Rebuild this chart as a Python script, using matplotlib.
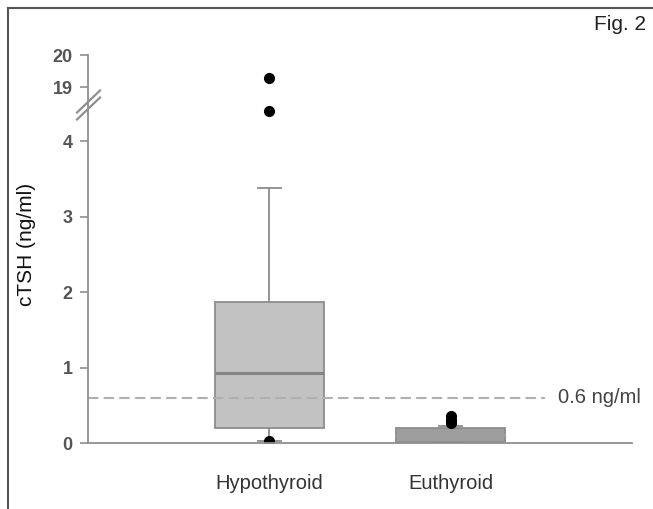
import matplotlib
matplotlib.use("Agg")
import matplotlib.pyplot as plt
from matplotlib.lines import Line2D

plt.rcParams["font.family"] = ["Liberation Sans", "DejaVu Sans"]

categories = ["Hypothyroid", "Euthyroid"]
q1 = [0.20, 0.01]
medians = [0.93, 0.10]
q3 = [1.87, 0.20]
whislo = [0.03, 0.00]
whishi = [3.38, 0.23]
fliers = [[0.02, 18.25, 19.28], [0.26, 0.31, 0.36]]
threshold = 0.6
threshold_label = "0.6 ng/ml"
lower_ticks = [0, 1, 2, 3, 4]
upper_ticks = [19, 20]
box_fills = ["#c2c2c2", "#9e9e9e"]
median_cols = ["#858585", "#9e9e9e"]

W, H = 653, 509
fig = plt.figure(figsize=(W / 100, H / 100), dpi=100)
fig.patch.set_facecolor("white")

def fx(px):
    return px / W

def fy(py):
    return 1 - py / H

left, right = 88, 632
y0_px, ybreak_px, ytop_px = 443, 113, 55
ax_lo = fig.add_axes([fx(left), fy(y0_px), fx(right - left), (y0_px - ybreak_px) / H])
ax_hi = fig.add_axes([fx(left), fy(ybreak_px), fx(right - left), (ybreak_px - ytop_px) / H])

lo_scale = 75.5  # px per unit
hi_scale = 32.0
lo_top = (y0_px - ybreak_px) / lo_scale
hi_bot = 20 - (ybreak_px - ytop_px) / hi_scale

stats = []
for i, c in enumerate(categories):
    stats.append(dict(label=c, q1=q1[i], med=medians[i], q3=q3[i],
                      whislo=whislo[i], whishi=whishi[i], fliers=fliers[i]))

spine_col = "#8f8f8f"
for ax in (ax_lo, ax_hi):
    for i, s in enumerate(stats):
        bp = ax.bxp([s], positions=[i + 1], widths=0.6, patch_artist=True,
                    showfliers=True, capwidths=0.13,
                    boxprops=dict(facecolor=box_fills[i], edgecolor="#8c8c8c", linewidth=1.3),
                    medianprops=dict(color=median_cols[i], linewidth=2.2),
                    whiskerprops=dict(color="#8c8c8c", linewidth=1.3),
                    capprops=dict(color="#8c8c8c", linewidth=1.3),
                    flierprops=dict(marker="o", markerfacecolor="black", markeredgecolor="black",
                                    markersize=7))
        if ax is ax_hi:
            for fl in bp["fliers"]:
                fl.set_clip_on(False)
    ax.set_xlim(0, 3)
    ax.set_facecolor("none")
    ax.spines["top"].set_visible(False)
    ax.spines["right"].set_visible(False)
    ax.spines["left"].set_color(spine_col)
    ax.spines["left"].set_linewidth(1.3)
    ax.tick_params(axis="y", colors=spine_col, labelcolor="#555555", labelsize=13,
                   length=6, width=1.2, direction="out", pad=5)

ax_lo.set_ylim(0, lo_top)
ax_hi.set_ylim(hi_bot, 20)
ax_lo.set_yticks(lower_ticks)
ax_hi.set_yticks(upper_ticks)
for ax in (ax_lo, ax_hi):
    for lab in ax.get_yticklabels():
        lab.set_fontweight("bold")
        lab.set_color("#555555")

ax_hi.spines["bottom"].set_visible(False)
ax_hi.set_xticks([])
ax_lo.spines["bottom"].set_color(spine_col)
ax_lo.spines["bottom"].set_linewidth(1.3)
ax_lo.set_xticks([1, 2])
ax_lo.set_xticklabels(categories, fontsize=14.5, color="#333333")
ax_lo.tick_params(axis="x", length=0, pad=22)

# threshold dashed line
ax_lo.plot([0, 2.52], [threshold, threshold], linestyle=(0, (5, 2.5)), color="#b0b0b0", linewidth=1.5)
ax_lo.text(2.59, threshold, threshold_label, fontsize=14.5, color="#444444", va="center", ha="left")

# axis break marks
for dy in (-3.5, 3.5):
    cy = 105 + dy
    fig.add_artist(Line2D([fx(77), fx(100)], [fy(cy + 11), fy(cy - 11)],
                          color=spine_col, linewidth=1.6))

fig.text(fx(27), fy(244), "cTSH (ng/ml)", rotation=90, fontsize=15, color="#111111",
         va="center", ha="center")
fig.text(fx(646), fy(25), "Fig. 2", fontsize=15, color="#222222", ha="right", va="center")

# frame lines (left and top)
fig.add_artist(Line2D([fx(8), fx(8)], [fy(8), 0], color="#555555", linewidth=1.5))
fig.add_artist(Line2D([fx(8), 1], [fy(8), fy(8)], color="#555555", linewidth=1.5))

fig.savefig("out.png", dpi=100)
